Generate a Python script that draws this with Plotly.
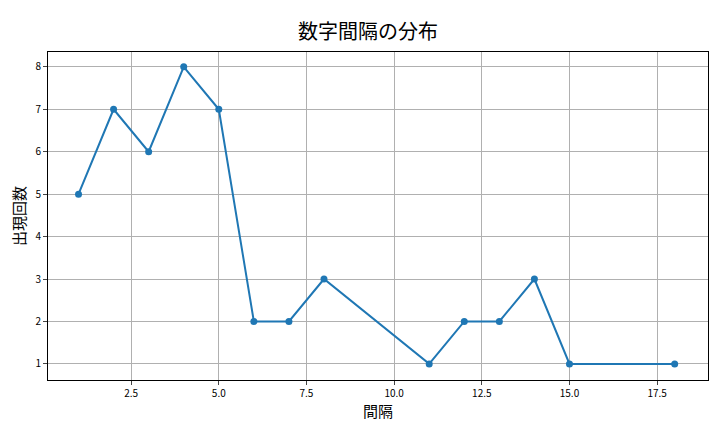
import plotly.graph_objects as go

intervals = [1, 2, 3, 4, 5, 6, 7, 8, 11, 12, 13, 14, 15, 18]
counts = [5, 7, 6, 8, 7, 2, 2, 3, 1, 2, 2, 3, 1, 1]

font = "Noto Sans CJK JP"
fig = go.Figure(go.Scatter(
    x=intervals, y=counts, mode="lines+markers",
    line=dict(color="#1f77b4", width=2),
    marker=dict(color="#1f77b4", size=7),
))
axis_common = dict(showgrid=True, gridcolor="#b0b0b0", gridwidth=1, showline=True,
                   linecolor="black", mirror=True, ticks="outside", ticklen=4,
                   tickfont=dict(size=10, family=font, color="black"), zeroline=False,
                   automargin=False)
fig.update_layout(
    width=720, height=432,
    paper_bgcolor="white", plot_bgcolor="white",
    margin=dict(l=40, r=20, t=44, b=60),
    title=dict(text="数字間隔の分布", x=0.5, xanchor="center", y=0.96,
               font=dict(size=20, family=font, color="black")),
    xaxis=dict(range=[0.13, 18.95], tickvals=[2.5, 5, 7.5, 10, 12.5, 15, 17.5],
               ticktext=["2.5", "5.0", "7.5", "10.0", "12.5", "15.0", "17.5"],
               title=dict(text="間隔", font=dict(size=15, family=font, color="black"), standoff=4),
               **axis_common),
    yaxis=dict(range=[0.62, 8.35], tickvals=list(range(1, 9)),
               title=dict(text="出現回数", font=dict(size=15, family=font, color="black"), standoff=6),
               **axis_common),
    showlegend=False,
)
fig.write_html("out.html")
